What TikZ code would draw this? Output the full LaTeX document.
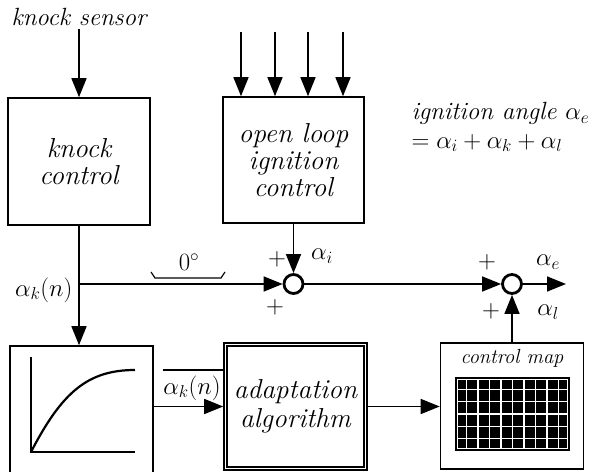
\documentclass[tikz,border=0pt]{standalone}
\usetikzlibrary{arrows.meta}
\begin{document}
\begin{tikzpicture}[x=1bp,y=-1bp,
  every node/.style={font=\fontsize{25}{29}\selectfont\itshape},
  line/.style={line width=1.6bp},
  arr/.style={line width=1.6bp,-{Triangle[length=19bp,width=15bp]}},
  box/.style={draw,line width=1.6bp,rectangle,inner sep=0pt,align=center,
    font=\fontsize{27.5}{27}\selectfont\itshape},
  sum/.style={circle,draw,line width=2.8bp,minimum size=19bp,inner sep=0pt}]
\useasboundingbox (0,0) rectangle (595,472);

% blocks
\node (ks) at (79,17) {knock sensor};
\node[box,minimum width=142bp,minimum height=127bp] (kc) at (79,161.5) {knock\\control};
\node[box,minimum width=141bp,minimum height=126bp] (ol) at (293.5,160) {open loop\\ignition\\control};
\node[box,minimum width=143bp,minimum height=148bp] (bl) at (81.5,420) {};
\node[box,minimum width=143bp,minimum height=127bp] (ad) at (295.5,406.5) {adaptation\\[2bp]algorithm};
\draw[line] ([shift={(4,4)}]ad.north west) rectangle ([shift={(-4,-4)}]ad.south east);
\node[box,minimum width=143bp,minimum height=126bp] (cm) at (512,406) {};
\node[font=\fontsize{20.5}{24}\selectfont\itshape] (cmt) at (512,358) {control map};

% grid of the control map
\fill[black] (455,377) rectangle (570,451);
\draw[white,line width=1.3bp] (457.5,379.5) rectangle (567.5,448.5);
\foreach \i in {1,...,9} \draw[white,line width=1.5bp] (455+\i*11.5,379) -- (455+\i*11.5,449);
\foreach \j in {1,...,5} \draw[white,line width=1.5bp] (457,377+\j*12.333) -- (568,377+\j*12.333);

% curve in the characteristic block
\draw[line] (31,357) -- (31,452) -- (135,452);
\draw[line width=2.2bp] (31,452) .. controls (62,392) and (88,370) .. (135,370);

% summing junctions
\node[sum] (s1) at (293.5,284) {};
\node[sum] (s2) at (512,284) {};

% inputs of the open loop control
\foreach \n/\x in {1/241,2/275,3/308,4/343} {
  \coordinate (i\n) at (\x,32);
  \draw[arr] (i\n) -- (i\n |- ol.north);
}

% connectors
\draw[arr] (ks) -- (kc);
\draw[arr] (kc.south) -- (kc.south |- bl.north);
\coordinate (br) at (kc.south |- s1);
\draw[arr] (br) -- (s1);
\draw[arr] (ol) -- (s1);
\draw[arr] (s1) -- (s2);
\coordinate (out) at (566,284);
\draw[arr] (s2) -- (out);
\draw[arr] (cm) -- (s2);
\draw[arr] (ad.west -| bl.east) -- (ad.west);
\draw[arr] (ad.east) -- (ad.east -| cm.west);
\coordinate (bar) at (163,370);
\draw[line] (bar) -- (bar -| ad.west);

% brace for 0 degree
\draw[line width=1.2bp] (151,272) -- (155,278) -- (221,278) -- (225,272);

% labels
\node[anchor=east] (akn1) at (76,290) {$\alpha_k(n)$};
\node (zero) at (189,262) {$0^\circ$};
\node (ai) at (322,256) {$\alpha_i$};
\node (p1) at (277,259) {$+$};
\node (p2) at (275,307) {$+$};
\node (p3) at (487,262) {$+$};
\node (p4) at (491,311) {$+$};
\node (ae) at (548,262) {$\alpha_e$};
\node (al) at (548,312) {$\alpha_l$};
\node (akn2) at (192,388) {$\alpha_k(n)$};
\node[anchor=west,align=left] (eq) at (408,127) {ignition angle $\alpha_e$\\$=\alpha_i+\alpha_k+\alpha_l$};
\end{tikzpicture}
\end{document}
